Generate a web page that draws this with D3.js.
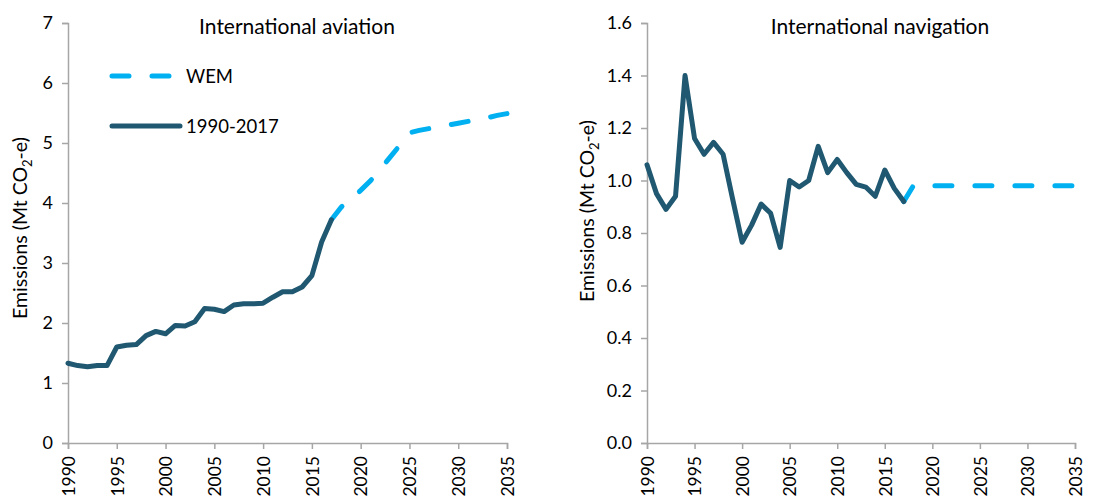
<!DOCTYPE html>
<html>
<head>
<meta charset="utf-8">
<script src="https://cdn.jsdelivr.net/npm/d3@7"></script>
<style>
  body { margin: 0; background: #fff; }
  svg { display: block; font-family: Lato, "Open Sans", sans-serif; }
</style>
</head>
<body>
<svg id="chart" width="1098" height="499"></svg>
<script>
// historical years and values
var histYears = d3.range(1990, 2018);
var aviationHist = [1.33, 1.29, 1.27, 1.29, 1.29, 1.60, 1.63, 1.64, 1.79, 1.86, 1.82, 1.96, 1.95, 2.02,
                    2.24, 2.23, 2.19, 2.30, 2.32, 2.32, 2.33, 2.43, 2.52, 2.52, 2.60, 2.79, 3.35, 3.72];
var navigationHist = [1.06, 0.95, 0.89, 0.94, 1.40, 1.16, 1.10, 1.145, 1.10, 0.93, 0.765, 0.83, 0.91, 0.875,
                      0.745, 1.00, 0.975, 1.00, 1.13, 1.03, 1.08, 1.03, 0.985, 0.975, 0.94, 1.04, 0.97, 0.92];

// WEM projection
var wemYears = [2017, 2018, 2019, 2020, 2021, 2022, 2023, 2024, 2025, 2026, 2027, 2028,
                2029, 2030, 2031, 2032, 2033, 2034, 2035];
var aviationWem = [3.72, 3.93, 4.07, 4.21, 4.37, 4.56, 4.76, 4.96, 5.17, 5.21, 5.24, 5.27,
                   5.30, 5.33, 5.36, 5.39, 5.42, 5.46, 5.49];
var navigationWem = [0.92, 0.98, 0.98, 0.98, 0.98, 0.98, 0.98, 0.98, 0.98, 0.98, 0.98, 0.98,
                     0.98, 0.98, 0.98, 0.98, 0.98, 0.98, 0.98];

var xTicks = [1990, 1995, 2000, 2005, 2010, 2015, 2020, 2025, 2030, 2035];
var legendLabels = ["WEM", "1990-2017"];

var histColour = "#1f5870";
var wemColour = "#00b0f0";
var axisColour = "#a6a6a6";

var svg = d3.select("#chart");

var drawPanel = function (cfg) {
	var x = d3.scaleLinear().domain([1990, 2035]).range([cfg.left, cfg.right]);
	var y = d3.scaleLinear().domain([0, cfg.yMax]).range([443, 23]);
	var g = svg.append("g");

	var yAxis = d3.axisLeft(y).tickValues(cfg.yTicks).tickSize(6).tickPadding(9)
		.tickFormat(cfg.yFormat);
	g.append("g")
		.attr("transform", "translate(" + cfg.left + ",0)")
		.call(yAxis)
		.call(function (a) {
			a.select(".domain").attr("stroke", axisColour).attr("stroke-width", 1.5);
			a.selectAll(".tick line").attr("stroke", axisColour).attr("stroke-width", 1.5);
			a.selectAll(".tick text").attr("fill", "#000").style("font-size", "18px")
				.style("font-family", "Lato, 'Open Sans', sans-serif");
		});

	// year labels are rotated and sit right at the bottom edge, as in the original
	var xAxis = d3.axisBottom(x).tickValues(xTicks).tickSize(6).tickFormat(d3.format("d"));
	g.append("g")
		.attr("transform", "translate(0,443)")
		.call(xAxis)
		.call(function (a) {
			a.select(".domain").attr("stroke", axisColour).attr("stroke-width", 1.5);
			a.selectAll(".tick line").attr("stroke", axisColour).attr("stroke-width", 1.5);
			a.selectAll(".tick text").attr("fill", "#000").style("font-size", "17.5px")
				.style("font-family", "Lato, 'Open Sans', sans-serif")
				.attr("transform", "rotate(-90)")
				.attr("text-anchor", "end")
				.attr("x", -13).attr("y", 0).attr("dy", "0.36em");
		});

	var line = d3.line()
		.x(function (d) { return x(d[0]); })
		.y(function (d) { return y(d[1]); });

	g.append("path")
		.datum(wemYears.map(function (yr, i) { return [yr, cfg.wem[i]]; }))
		.attr("d", line)
		.attr("fill", "none")
		.attr("stroke", wemColour)
		.attr("stroke-width", 5)
		.attr("stroke-linecap", "round")
		.attr("stroke-dasharray", "17,23");

	g.append("path")
		.datum(histYears.map(function (yr, i) { return [yr, cfg.hist[i]]; }))
		.attr("d", line)
		.attr("fill", "none")
		.attr("stroke", histColour)
		.attr("stroke-width", 5)
		.attr("stroke-linejoin", "round")
		.attr("stroke-linecap", "round");

	g.append("text")
		.attr("x", cfg.titleX).attr("y", 34)
		.attr("text-anchor", "middle")
		.style("font-size", "21px")
		.text(cfg.title);

	var yl = g.append("text")
		.attr("transform", "translate(" + cfg.yLabelX + "," + cfg.yLabelY + ") rotate(-90)")
		.attr("text-anchor", "middle")
		.style("font-size", "19.5px");
	yl.append("tspan").text("Emissions (Mt CO");
	yl.append("tspan").attr("dy", 5).style("font-size", "13px").text("2");
	yl.append("tspan").attr("dy", -5).text("-e)");
};

drawPanel({
	left: 68, right: 507, yMax: 7, yTicks: [0, 1, 2, 3, 4, 5, 6, 7], yFormat: d3.format("d"),
	hist: aviationHist, wem: aviationWem, title: "International aviation", titleX: 297,
	yLabelX: 27, yLabelY: 228
});

drawPanel({
	left: 647, right: 1075, yMax: 1.6, yTicks: [0, 0.2, 0.4, 0.6, 0.8, 1.0, 1.2, 1.4, 1.6],
	yFormat: d3.format(".1f"),
	hist: navigationHist, wem: navigationWem, title: "International navigation", titleX: 880,
	yLabelX: 594, yLabelY: 211
});

// legend (left panel)
var legend = svg.append("g");
legend.append("line")
	.attr("x1", 112).attr("x2", 172).attr("y1", 76).attr("y2", 76)
	.attr("stroke", wemColour).attr("stroke-width", 5)
	.attr("stroke-linecap", "round").attr("stroke-dasharray", "17,23");
legend.append("line")
	.attr("x1", 112).attr("x2", 180).attr("y1", 126).attr("y2", 126)
	.attr("stroke", histColour).attr("stroke-width", 5)
	.attr("stroke-linecap", "round");
legend.selectAll("text.leg")
	.data(legendLabels)
	.enter()
	.append("text")
	.attr("class", "leg")
	.attr("x", 186)
	.attr("y", function (d, i) { return 83 + i * 50; })
	.style("font-size", "18.5px")
	.text(function (d) { return d; });
</script>
</body>
</html>
